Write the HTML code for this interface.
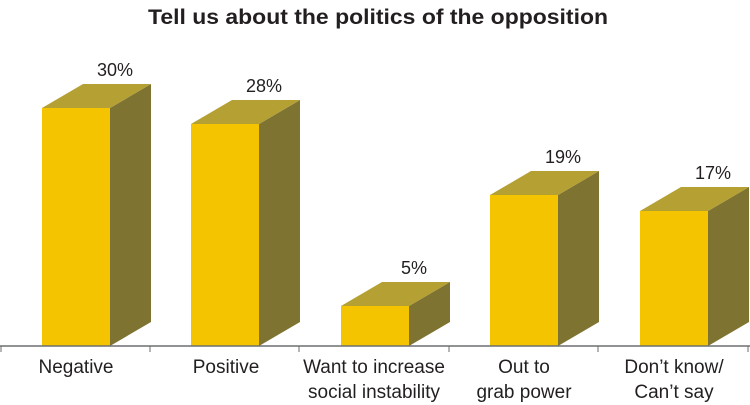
<!DOCTYPE html><html><head><style>body{margin:0;background:#fff}svg{display:block}text{font-family:"Liberation Sans",sans-serif;fill:#231f20}</style></head><body>
<svg width="750" height="405" viewBox="0 0 750 405">
<text x="378" y="24" text-anchor="middle" font-size="21" font-weight="bold" textLength="460" lengthAdjust="spacingAndGlyphs">Tell us about the politics of the opposition</text>
<g>
<polygon points="110,108 151,84 151,322 110,346" fill="#7f7332"/><polygon points="42,108 83,84 151,84 110,108" fill="#b5a033"/><rect x="42" y="108" width="68" height="238" fill="#f5c400"/>
<polygon points="259,124 300,100 300,322 259,346" fill="#7f7332"/><polygon points="191,124 232,100 300,100 259,124" fill="#b5a033"/><rect x="191" y="124" width="68" height="222" fill="#f5c400"/>
<polygon points="409,306 450,282 450,322 409,346" fill="#7f7332"/><polygon points="341,306 382,282 450,282 409,306" fill="#b5a033"/><rect x="341" y="306" width="68" height="40" fill="#f5c400"/>
<polygon points="558,195 599,171 599,322 558,346" fill="#7f7332"/><polygon points="490,195 531,171 599,171 558,195" fill="#b5a033"/><rect x="490" y="195" width="68" height="151" fill="#f5c400"/>
<polygon points="708,211 749,187 749,322 708,346" fill="#7f7332"/><polygon points="640,211 681,187 749,187 708,211" fill="#b5a033"/><rect x="640" y="211" width="68" height="135" fill="#f5c400"/>
</g>
<g font-size="18" text-anchor="middle">
<text x="115" y="76">30%</text><text x="264" y="92">28%</text><text x="414" y="274">5%</text><text x="563" y="163">19%</text><text x="713" y="179">17%</text>
</g>
<line x1="0" y1="346" x2="750" y2="346" stroke="#6d6e71" stroke-width="1.5"/>
<g stroke="#6d6e71" stroke-width="1">
<line x1="1" y1="346" x2="1" y2="352"/><line x1="150" y1="346" x2="150" y2="352"/><line x1="299" y1="346" x2="299" y2="352"/><line x1="449" y1="346" x2="449" y2="352"/><line x1="598" y1="346" x2="598" y2="352"/><line x1="748" y1="346" x2="748" y2="352"/></g>
<g font-size="19" text-anchor="middle">
<text x="76" y="373">Negative</text>
<text x="226" y="373">Positive</text>
<text x="374" y="373">Want to increase</text><text x="374" y="398">social instability</text>
<text x="524" y="373">Out to</text><text x="524" y="398">grab power</text>
<text x="674" y="373">Don’t know/</text><text x="674" y="398">Can’t say</text>
</g>
</svg></body></html>
